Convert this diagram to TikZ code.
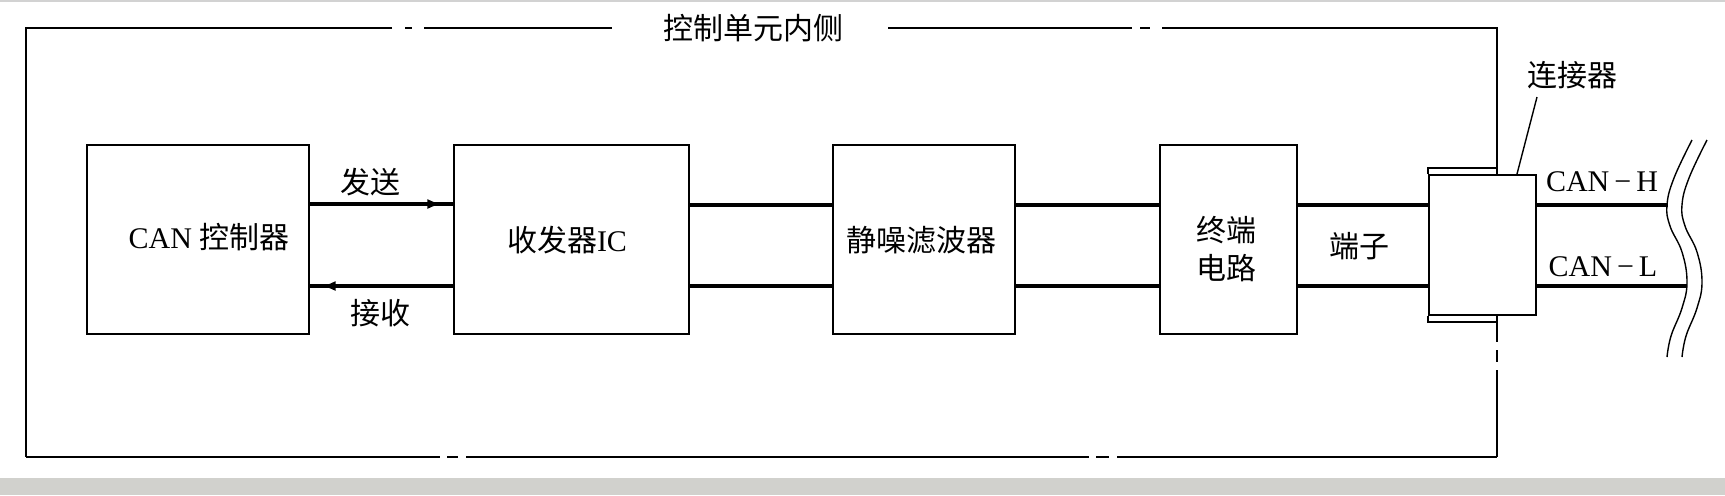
\documentclass[tikz,border=0pt]{standalone}
\usepackage{fontspec}
\setmainfont{Liberation Serif}
\newfontfamily\cjk{Noto Sans CJK SC}
\usetikzlibrary{arrows.meta,decorations.markings}
\definecolor{bandgray}{RGB}{209,209,205}
\begin{document}
\begin{tikzpicture}[x=0.5pt,y=-0.5pt,
  box/.style={draw, line width=1.15pt, inner sep=0pt, minimum height=94.5pt},
  txt/.style={font=\fontsize{15pt}{19pt}\selectfont\cjk, inner sep=0pt},
  lat/.style={font=\fontsize{15pt}{19pt}\selectfont, inner sep=0pt},
  bus/.style={line width=2pt},
  frm/.style={line width=0.75pt},
  thin/.style={line width=0.7pt},
  fwd/.style={postaction=decorate, decoration={markings, mark=at position 0.92 with {\arrow{Latex[length=7pt,width=5pt]}}}},
]
\useasboundingbox (0,0) rectangle (1725,495);
\fill[bandgray] (0,478) rectangle (1725,495);
\fill[gray!35] (0,0) rectangle (1725,1.5);

% outer frame (dash-dot boundary)
\draw[frm] (392,28) -- (26,28) -- (26,457);
\draw[frm] (405,28) -- (412,28);
\draw[frm] (424,28) -- (612,28);
\draw[frm] (888,28) -- (1132,28);
\draw[frm] (1140,28) -- (1150,28);
\draw[frm] (1162,28) -- (1497,28) -- (1497,168);
\draw[frm] (1497,322) -- (1497,342);
\draw[frm] (1497,350) -- (1497,362);
\draw[frm] (1497,370) -- (1497,457);
\draw[line width=1.25pt] (26,457) -- (440,457);
\draw[line width=1.25pt] (447,457) -- (458,457);
\draw[line width=1.25pt] (466,457) -- (1089,457);
\draw[line width=1.25pt] (1096,457) -- (1109,457);
\draw[line width=1.25pt] (1117,457) -- (1497,457);
\node[txt] (title) at (753,28) {控制单元内侧};

% blocks
\node[box, minimum width=111pt] (ctrl) at (198,239.5) {};
\node[lat] (ctrlt) at (209,237) {CAN {\cjk 控制器}};
\node[box, minimum width=117.5pt] (ic) at (571.5,239.5) {};
\node[lat] (ict) at (567,240) {{\cjk 收发器}IC};
\node[box, minimum width=91pt] (filt) at (924,239.5) {};
\node[txt] (filtt) at (921,240) {静噪滤波器};
\node[box, minimum width=68.5pt] (term) at (1228.5,239.5) {};
\node[txt, align=center] (termt) at (1226,249) {终端\\电路};

% connector
\node[draw, line width=1pt, inner sep=0pt, minimum width=53.5pt, minimum height=70pt] (conn) at (1482.5,245) {};
\draw[thin] (conn.north west) |- (1497,168) -- (conn.north -| 1497,0);
\draw[thin] (conn.south west) |- (1497,322) -- (conn.south -| 1497,0);
\node[txt] (connt) at (1572,75) {连接器};
\coordinate (ldtop) at (1537,97);
\draw[thin] (ldtop) -- (conn.north -| 1517,0);

% signal lines
\draw[bus, fwd] (ctrl.east |- 0,204) -- (ic.west |- 0,204);
\draw[bus, fwd] (ic.west |- 0,286) -- (ctrl.east |- 0,286);
\node[txt] (send) at (370,182) {发送};
\node[txt] (recv) at (380,313) {接收};
\draw[bus] (ic.east |- 0,205) -- (filt.west |- 0,205);
\draw[bus] (ic.east |- 0,286) -- (filt.west |- 0,286);
\draw[bus] (filt.east |- 0,205) -- (term.west |- 0,205);
\draw[bus] (filt.east |- 0,286) -- (term.west |- 0,286);
\draw[bus] (term.east |- 0,205) -- (conn.west |- 0,205);
\draw[bus] (term.east |- 0,286) -- (conn.west |- 0,286);
\node[txt] (tmn) at (1359,246) {端子};

\coordinate (hend) at (1668,205);
\coordinate (lend) at (1687,286);
\draw[bus] (conn.east |- hend) -- (hend);
\draw[bus] (conn.east |- lend) -- (lend);
\node[lat] (canh) at (1602,182) {CAN{\,}−{\,}H};
\node[lat] (canl) at (1603,267) {CAN{\,}−{\,}L};

% break marks
\draw[thin] plot[smooth, tension=0.7] coordinates {(1692,140) (1674,178) (1667,205) (1670,226) (1682,252) (1687,282) (1682,308) (1671,336) (1667,357)};
\draw[thin, xshift=7.5pt] plot[smooth, tension=0.7] coordinates {(1692,140) (1674,178) (1667,205) (1670,226) (1682,252) (1687,282) (1682,308) (1671,336) (1667,357)};
\end{tikzpicture}
\end{document}
